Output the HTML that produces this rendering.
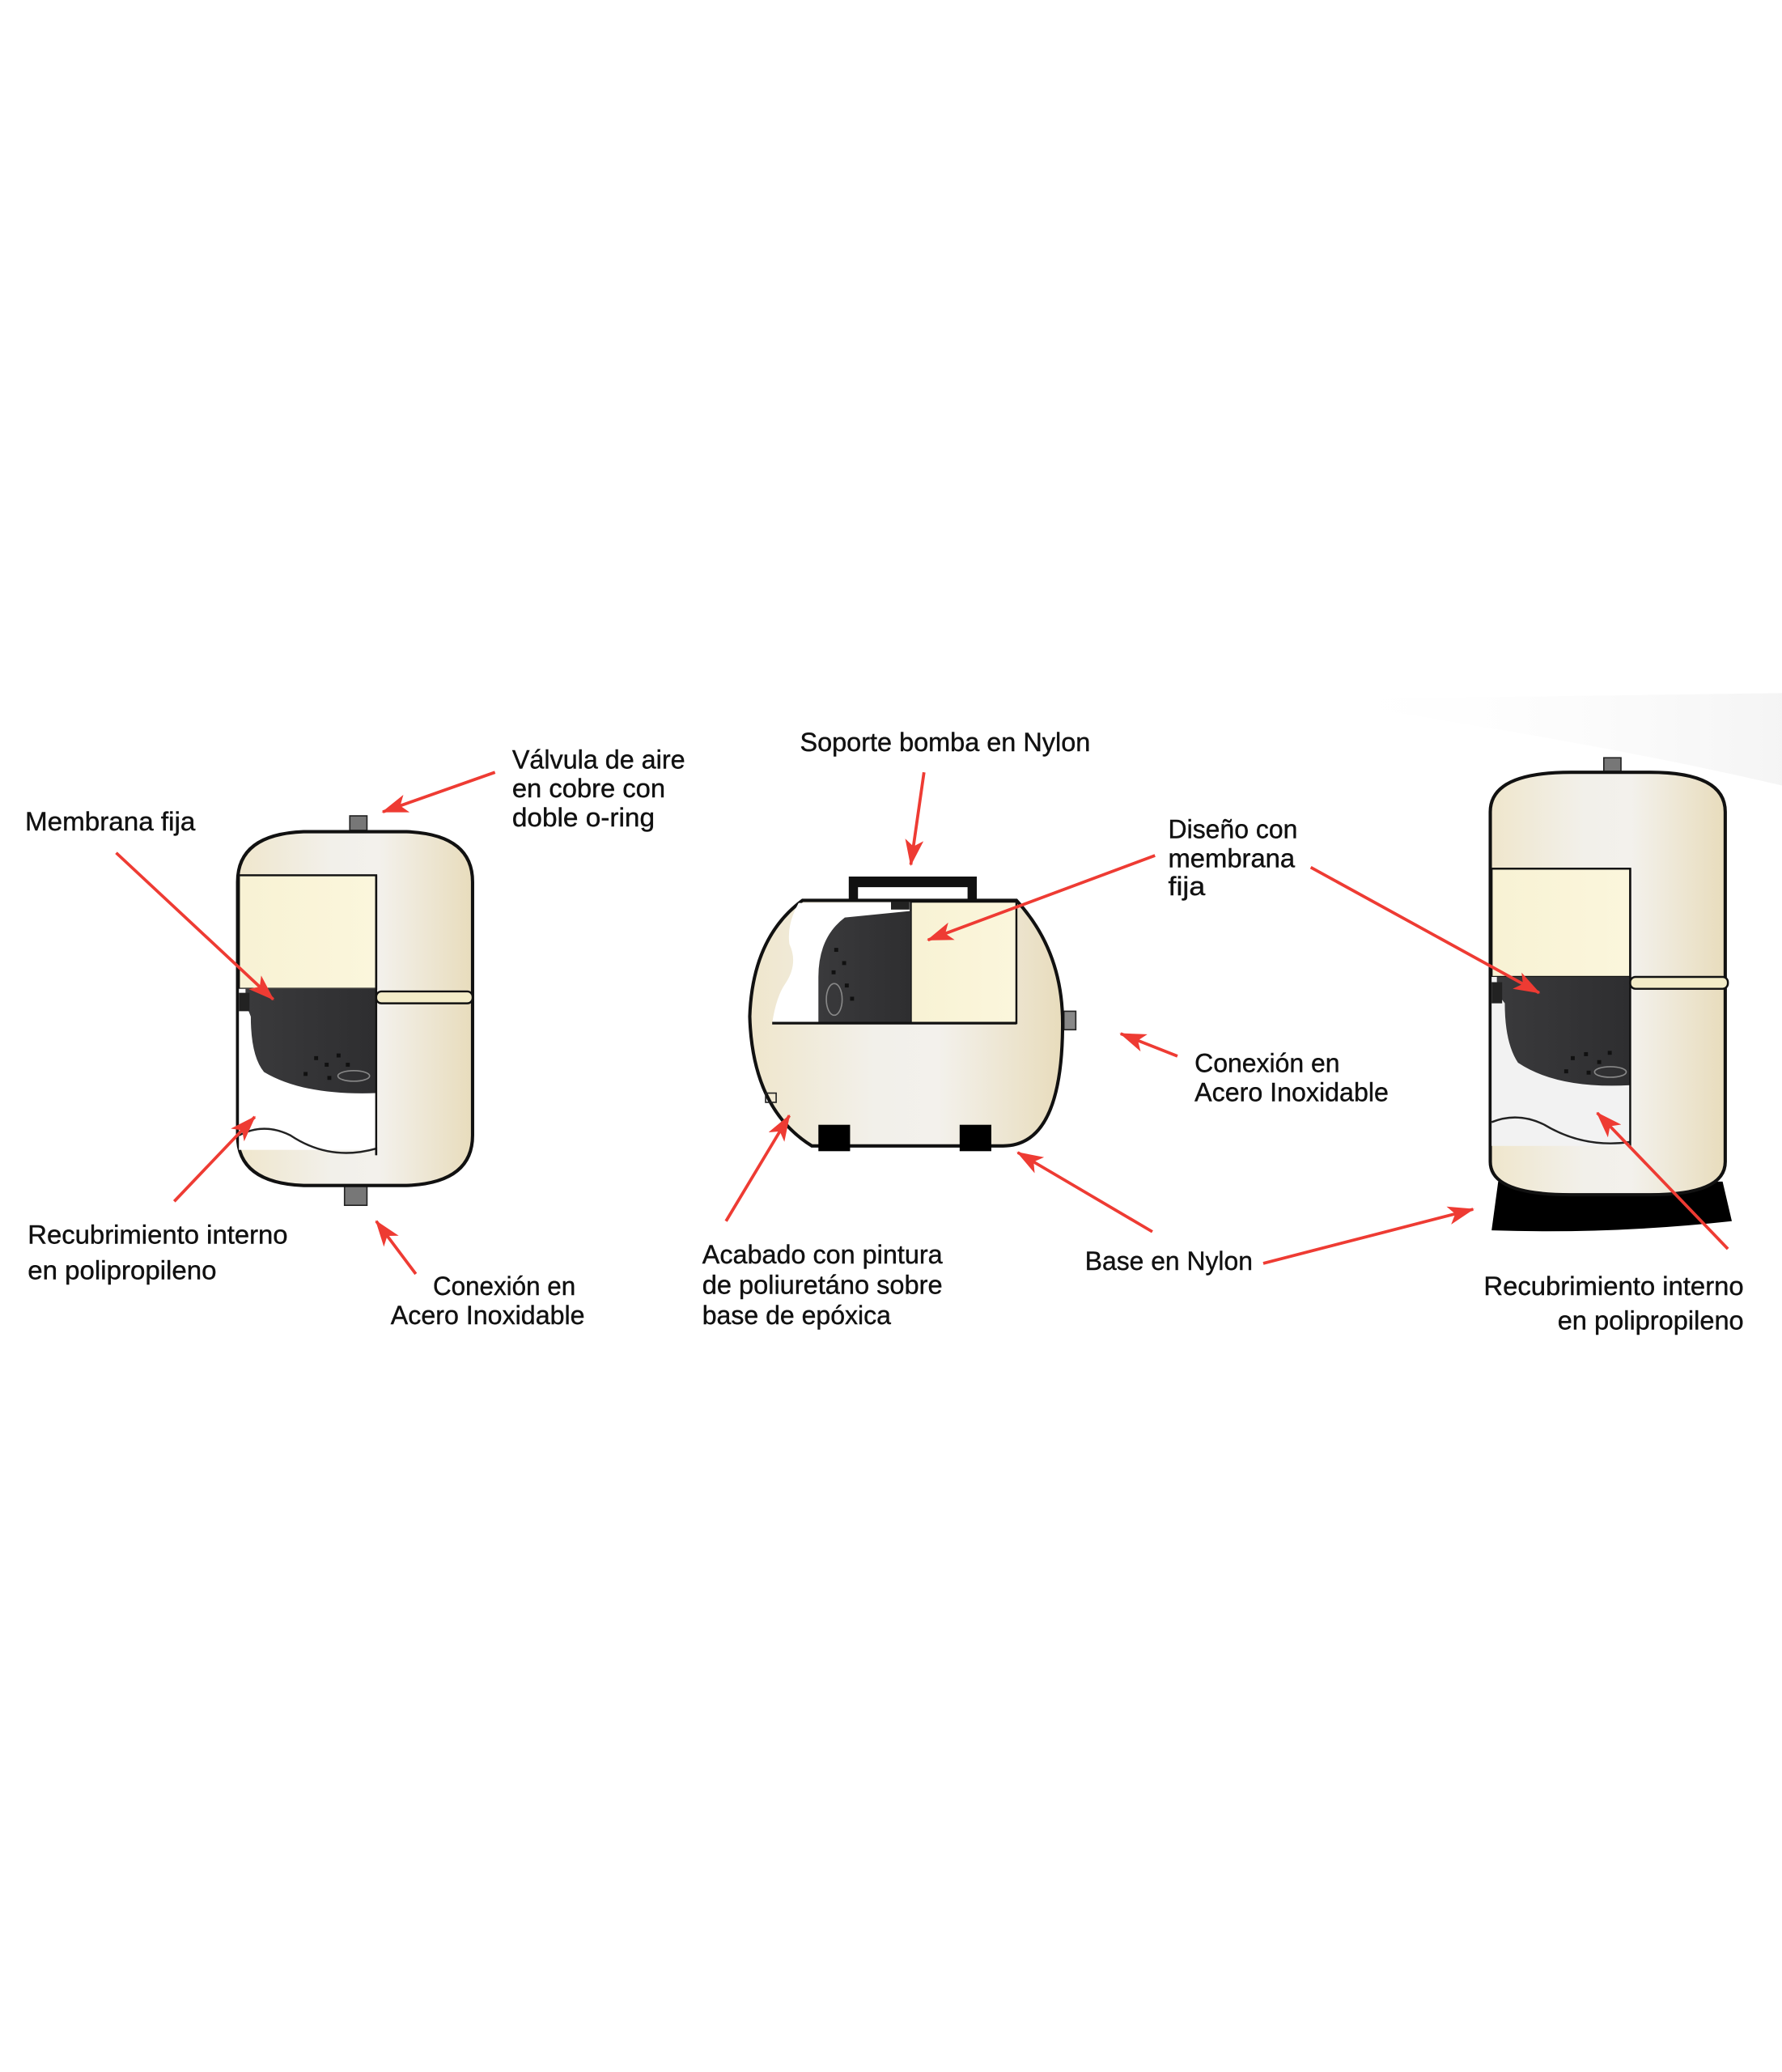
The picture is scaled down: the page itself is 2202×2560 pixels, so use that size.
<!DOCTYPE html>
<html><head><meta charset="utf-8"><style>
html,body{margin:0;padding:0;background:#fff;}
svg{display:block;}
text{font-family:"Liberation Sans Narrow","Liberation Sans",sans-serif;font-size:20px;fill:#111;stroke:#111;stroke-width:0.25;}
</style></head><body>
<svg width="2202" height="2560" viewBox="0 0 1350 1569.5" preserveAspectRatio="none" xmlns="http://www.w3.org/2000/svg">
<defs>
<marker id="a" viewBox="0 0 20 14" refX="19" refY="7" markerWidth="20" markerHeight="14" markerUnits="userSpaceOnUse" orient="auto"><path d="M0,0 L20,7 L0,14 L5,7 Z" fill="#ee3b33"/></marker>
<linearGradient id="cream" x1="0" x2="1" y1="0" y2="0">
<stop offset="0" stop-color="#efe6cc"/><stop offset="0.4" stop-color="#f2f0ea"/><stop offset="0.6" stop-color="#f3f1ec"/><stop offset="1" stop-color="#e8dcbc"/></linearGradient>
<linearGradient id="win" x1="0" x2="1"><stop offset="0" stop-color="#f8f2d4"/><stop offset="1" stop-color="#fbf6dc"/></linearGradient>
<linearGradient id="dark" x1="0" x2="1"><stop offset="0" stop-color="#3a3a3c"/><stop offset="1" stop-color="#2e2e30"/></linearGradient>
<linearGradient id="bg" x1="0" x2="1" y1="0" y2="0"><stop offset="0" stop-color="#fff" stop-opacity="0"/><stop offset="1" stop-color="#f0f0f0"/></linearGradient>
</defs>
<path d="M990,530 L1350,525 L1350,595 Q1200,560 990,530 Z" fill="url(#bg)" opacity="0.7"/>

<!-- LEFT TANK -->
<rect x="265" y="618" width="13" height="11" fill="#777" stroke="#222"/>
<rect x="261" y="897" width="17" height="16" fill="#777" stroke="#222"/>
<path d="M180,668 Q180,632 230,630 L308,630 Q358,632 358,668 L358,860 Q358,896 308,898 L230,898 Q180,896 180,860 Z" fill="url(#cream)" stroke="#111" stroke-width="2.5"/>
<rect x="181" y="663" width="104" height="86" fill="url(#win)" stroke="#111" stroke-width="1.5"/>
<rect x="181" y="749" width="104" height="122" fill="#fff"/>
<path d="M186,749 L285,749 L285,828 Q230,830 200,812 Q190,800 190,770 L186,760 Z" fill="url(#dark)"/>
<path d="M181,752 L189,752 L189,766 L181,766 Z" fill="#222"/>
<path d="M181,860 Q200,850 220,860 Q250,880 285,870 L285,875" fill="none" stroke="#222" stroke-width="1.5"/>
<line x1="285" y1="663" x2="285" y2="875" stroke="#111" stroke-width="1.5"/>
<rect x="285" y="751" width="73" height="9" rx="4" fill="#f3ecc8" stroke="#111" stroke-width="1.5"/>
<g fill="#111"><rect x="238" y="800" width="3" height="3"/><rect x="246" y="805" width="3" height="3"/><rect x="255" y="798" width="3" height="3"/><rect x="262" y="805" width="3" height="3"/><rect x="230" y="812" width="3" height="3"/><rect x="248" y="815" width="3" height="3"/></g>
<ellipse cx="268" cy="815" rx="12" ry="4" fill="none" stroke="#888"/>

<!-- MIDDLE TANK -->
<path d="M643,682 L643,664 L740,664 L740,682 L733,682 L733,672 L650,672 L650,682 Z" fill="#111"/>
<rect x="806" y="766" width="9" height="14" fill="#888" stroke="#222"/>
<path d="M608,682 L770,682 Q805,720 805,775 Q805,868 760,868 L615,868 Q570,840 568,770 Q570,710 608,682 Z" fill="url(#cream)" stroke="#111" stroke-width="2.5"/>
<path d="M605,684 L770,684 L770,775 L585,775 Q588,755 595,745 Q605,730 598,715 Q596,700 605,684 Z" fill="#fff"/>
<rect x="690" y="683" width="80" height="92" fill="url(#win)" stroke="#111" stroke-width="1.5"/>
<path d="M690,690 L640,695 Q620,710 620,740 L620,775 L690,775 Z" fill="url(#dark)"/>
<rect x="675" y="683" width="14" height="6" fill="#222"/>
<line x1="585" y1="775" x2="770" y2="775" stroke="#111" stroke-width="2"/>
<g fill="#111"><rect x="632" y="718" width="3" height="3"/><rect x="638" y="728" width="3" height="3"/><rect x="630" y="735" width="3" height="3"/><rect x="640" y="745" width="3" height="3"/><rect x="644" y="755" width="3" height="3"/></g>
<ellipse cx="632" cy="757" rx="6" ry="12" fill="none" stroke="#888"/>
<rect x="580" y="828" width="8" height="7" fill="none" stroke="#222"/>
<rect x="620" y="852" width="24" height="20" fill="#000"/>
<rect x="727" y="852" width="24" height="20" fill="#000"/>

<!-- RIGHT TANK -->
<rect x="1215" y="574" width="13" height="12" fill="#777" stroke="#222"/>
<path d="M1130,932 L1135,895 L1305,895 L1312,925 Q1220,935 1130,932 Z" fill="#000"/>
<path d="M1129,615 Q1129,585 1190,585 L1250,585 Q1307,585 1307,615 L1307,880 Q1307,905 1250,905 L1190,905 Q1129,905 1129,880 Z" fill="url(#cream)" stroke="#111" stroke-width="2.5"/>
<rect x="1130" y="658" width="105" height="82" fill="url(#win)" stroke="#111" stroke-width="1.5"/>
<rect x="1130" y="740" width="105" height="128" fill="#f2f2f2"/>
<path d="M1134,740 L1235,740 L1235,822 Q1180,825 1150,805 Q1140,790 1140,760 L1134,752 Z" fill="url(#dark)"/>
<path d="M1130,744 L1138,744 L1138,760 L1130,760 Z" fill="#222"/>
<path d="M1130,850 Q1150,842 1170,852 Q1200,870 1235,865" fill="none" stroke="#222" stroke-width="1.5"/>
<line x1="1235" y1="658" x2="1235" y2="868" stroke="#111" stroke-width="1.5"/>
<rect x="1235" y="740" width="74" height="9" rx="4" fill="#f3ecc8" stroke="#111" stroke-width="1.5"/>
<g fill="#111"><rect x="1190" y="800" width="3" height="3"/><rect x="1200" y="797" width="3" height="3"/><rect x="1210" y="803" width="3" height="3"/><rect x="1218" y="796" width="3" height="3"/><rect x="1185" y="810" width="3" height="3"/><rect x="1202" y="811" width="3" height="3"/></g>
<ellipse cx="1220" cy="812" rx="12" ry="4" fill="none" stroke="#888"/>

<!-- ARROWS -->
<g stroke="#ee3b33" stroke-width="2.3" fill="none" marker-end="url(#a)">
<line x1="375" y1="585" x2="290" y2="615"/>
<line x1="88" y1="646" x2="207" y2="757"/>
<line x1="132" y1="910" x2="193" y2="846"/>
<line x1="315" y1="965" x2="285" y2="925"/>
<line x1="700" y1="585" x2="690" y2="655"/>
<line x1="875" y1="648" x2="703" y2="712"/>
<line x1="892" y1="800" x2="849" y2="783"/>
<line x1="550" y1="925" x2="598" y2="845"/>
<line x1="873" y1="933" x2="771" y2="873"/>
<line x1="957" y1="957" x2="1116" y2="916"/>
<line x1="993" y1="657" x2="1166" y2="752"/>
<line x1="1309" y1="946" x2="1210" y2="843"/>
</g>

<!-- TEXT -->
<text x="388" y="582" textLength="131" lengthAdjust="spacingAndGlyphs">Válvula de aire</text>
<text x="388" y="604" textLength="116" lengthAdjust="spacingAndGlyphs">en cobre con</text>
<text x="388" y="626" textLength="108" lengthAdjust="spacingAndGlyphs">doble o-ring</text>
<text x="19" y="629" textLength="129" lengthAdjust="spacingAndGlyphs">Membrana fija</text>
<text x="21" y="942" textLength="197" lengthAdjust="spacingAndGlyphs">Recubrimiento interno</text>
<text x="21" y="969" textLength="143" lengthAdjust="spacingAndGlyphs">en polipropileno</text>
<text x="328" y="981" textLength="108" lengthAdjust="spacingAndGlyphs">Conexión en</text>
<text x="296" y="1003" textLength="147" lengthAdjust="spacingAndGlyphs">Acero Inoxidable</text>
<text x="606" y="569" textLength="220" lengthAdjust="spacingAndGlyphs">Soporte bomba en Nylon</text>
<text x="885" y="635" textLength="98" lengthAdjust="spacingAndGlyphs">Diseño con</text>
<text x="885" y="657" textLength="96" lengthAdjust="spacingAndGlyphs">membrana</text>
<text x="885" y="678" textLength="28" lengthAdjust="spacingAndGlyphs">fija</text>
<text x="905" y="812" textLength="110" lengthAdjust="spacingAndGlyphs">Conexión en</text>
<text x="905" y="834" textLength="147" lengthAdjust="spacingAndGlyphs">Acero Inoxidable</text>
<text x="532" y="957" textLength="182" lengthAdjust="spacingAndGlyphs">Acabado con pintura</text>
<text x="532" y="980" textLength="182" lengthAdjust="spacingAndGlyphs">de poliuretáno sobre</text>
<text x="532" y="1003" textLength="143" lengthAdjust="spacingAndGlyphs">base de epóxica</text>
<text x="822" y="962" textLength="127" lengthAdjust="spacingAndGlyphs">Base en Nylon</text>
<text x="1124" y="981" textLength="197" lengthAdjust="spacingAndGlyphs">Recubrimiento interno</text>
<text x="1180" y="1007" textLength="141" lengthAdjust="spacingAndGlyphs">en polipropileno</text>
</svg>
</body></html>
